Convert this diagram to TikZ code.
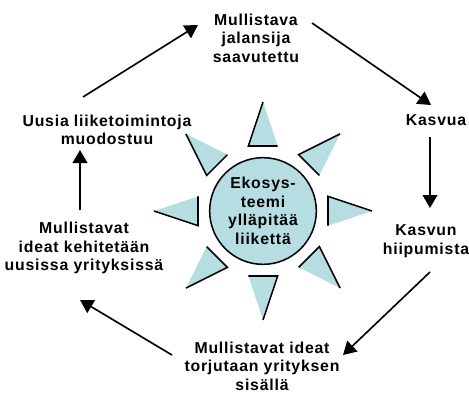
\documentclass[tikz,border=0pt]{standalone}
\usepackage{fontspec}
\setmainfont{Liberation Sans}
\usetikzlibrary{arrows.meta, calc}
\definecolor{sunblue}{RGB}{182,222,226}

\begin{document}
\begin{tikzpicture}[
    lbl/.style={font=\bfseries\fontsize{13.5}{15.8}\selectfont\addfontfeatures{LetterSpace=5}, align=center, inner sep=0pt},
    flow/.style={-{Triangle[length=3.9mm,width=4.4mm]}, line width=1.4pt},
    sun/.style={lbl, circle, draw, fill=sunblue, line width=1.3pt, minimum size=3.2cm}
]
    \useasboundingbox (0,0) rectangle (14.07,11.82);
    % Aurinko
    \begin{scope}[shift={(7.89,5.49)}]
        \foreach \a in {0,45,...,315} {
            \fill[sunblue, rotate=\a] (1.95,-0.44) -- (3.27,0) -- (1.95,0.44) -- cycle;
            \draw[line width=1.3pt, rotate=\a] (1.95,-0.44) -- (1.95,0.44) -- (3.27,0);
        }
        \node[sun] (eko) at (0,0) {Ekosys-\\teemi\\ylläpitää\\liikettä};
    \end{scope}
    % Kierto
    \node[lbl] (jalansija) at (7.68,10.68) {Mullistava\\jalansija\\saavutettu};
    \node[lbl] (kasvua) at (13.08,8.22) {Kasvua};
    \node[lbl] (hiipuu) at (12.78,4.59) {Kasvun\\hiipumista};
    \node[lbl] (torjutaan) at (7.86,0.84) {Mullistavat ideat\\torjutaan yrityksen\\sisällä};
    \node[lbl] (kehitetaan) at (2.52,4.38) {Mullistavat\\ideat kehitetään\\uusissa yrityksissä};
    \node[lbl] (uusia) at (3.21,7.92) {Uusia liiketoimintoja\\muodostuu};
    % Nuolet
    \draw[flow] ($(uusia)+(-0.72,0.99)$) -- ($(jalansija)+(-1.74,0.39)$);
    \draw[flow] ($(jalansija)+(1.68,0.45)$) -- ($(kasvua)+(-0.15,0.45)$);
    \draw[flow] ($(kasvua)+(-0.18,-0.51)$) -- ($(hiipuu)+(0.12,0.99)$);
    \draw[flow] ($(hiipuu)+(0.12,-0.93)$) -- ($(torjutaan)+(2.43,0.33)$);
    \draw[flow] ($(torjutaan)+(-2.7,0.33)$) -- ($(kehitetaan)+(-0.12,-1.56)$);
    \draw[flow] ($(kehitetaan)+(-0.12,1.14)$) -- ($(uusia)+(-0.81,-0.6)$);
\end{tikzpicture}
\end{document}
